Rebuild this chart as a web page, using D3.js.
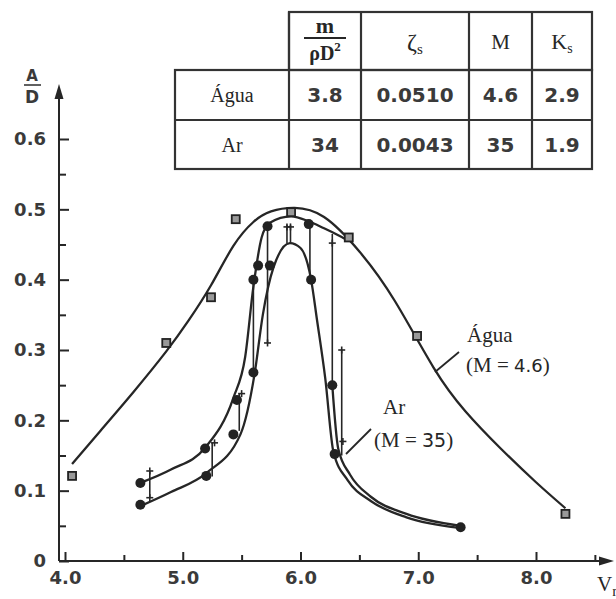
<!DOCTYPE html>
<html>
<head>
<meta charset="utf-8">
<script src="https://cdn.jsdelivr.net/npm/d3@7"></script>
<style>
  body { margin: 0; background: #fff; }
  svg { display: block; }
</style>
</head>
<body>
<svg id="chart" width="616" height="599"></svg>
<script>
// Água (M = 4.6): pontos medidos (quadrados)
const aguaX = [4.06, 4.86, 5.24, 5.45, 5.92, 6.41, 6.99, 8.25];
const aguaY = [0.121, 0.31, 0.375, 0.486, 0.496, 0.46, 0.32, 0.067];
// curva ajustada da água
const aguaCurvaX = [4.06, 4.3, 4.58, 4.86, 5.05, 5.24, 5.43, 5.6, 5.75, 5.95, 6.2, 6.5, 6.8, 7.13, 7.4, 7.7, 8.0, 8.25];
const aguaCurvaY = [0.138, 0.185, 0.24, 0.298, 0.342, 0.392, 0.448, 0.482, 0.497, 0.502, 0.489, 0.44, 0.37, 0.275, 0.213, 0.16, 0.112, 0.075];

// Ar (M = 35): ramo superior, ramo inferior e cauda depois do salto
const arSupX = [4.64, 4.9, 5.19, 5.43, 5.53, 5.6, 5.67, 5.74, 5.92, 6.07, 6.2, 6.3, 6.41];
const arSupY = [0.111, 0.13, 0.161, 0.232, 0.29, 0.39, 0.46, 0.481, 0.49, 0.483, 0.473, 0.465, 0.455];
const arInfX = [4.64, 4.9, 5.2, 5.49, 5.61, 5.68, 5.77, 5.91, 6.0, 6.09, 6.14, 6.21, 6.28, 6.4, 6.6, 6.9, 7.35];
const arInfY = [0.078, 0.098, 0.125, 0.18, 0.266, 0.35, 0.417, 0.452, 0.445, 0.40, 0.343, 0.26, 0.155, 0.115, 0.085, 0.062, 0.047];
const arCaudaX = [6.27, 6.32, 6.42, 6.6, 6.9, 7.36];
const arCaudaY = [0.25, 0.16, 0.123, 0.091, 0.067, 0.05];

// pontos medidos do ar (círculos)
const arCirX = [4.64, 4.64, 5.19, 5.20, 5.43, 5.46, 5.60, 5.60, 5.64, 5.72, 5.74, 6.07, 6.09, 6.27, 6.29, 7.36];
const arCirY = [0.111, 0.08, 0.16, 0.121, 0.18, 0.229, 0.268, 0.40, 0.42, 0.476, 0.42, 0.479, 0.40, 0.25, 0.152, 0.048];

// saltos verticais (x, de, até)
const saltoX = [4.72, 5.25, 5.48, 5.60, 5.72, 5.885, 5.915, 6.08, 6.27, 6.35];
const saltoDe = [0.128, 0.168, 0.238, 0.40, 0.476, 0.478, 0.478, 0.479, 0.465, 0.30];
const saltoAte = [0.09, 0.12, 0.185, 0.268, 0.31, 0.452, 0.452, 0.40, 0.25, 0.15];

// marcas "+"
const maisX = [4.72, 4.72, 5.27, 5.50, 5.72, 5.885, 5.915, 6.27, 6.35, 6.36];
const maisY = [0.128, 0.09, 0.168, 0.238, 0.31, 0.475, 0.475, 0.452, 0.30, 0.17];

// eixos
const xTicks = [4, 5, 6, 7, 8];
const xMinor = [4.5, 5.5, 6.5, 7.5, 8.5];
const yTicks = [0, 0.1, 0.2, 0.3, 0.4, 0.5, 0.6];
const yMinor = [0.05, 0.15, 0.25, 0.35, 0.45, 0.55];

// tabela
const tabLinhas = ["Água", "Ar"];
const tabMassa = ["3.8", "34"];
const tabZeta = ["0.0510", "0.0043"];
const tabM = ["4.6", "35"];
const tabK = ["2.9", "1.9"];

const numFont = "DejaVu Sans";
const serif = "Liberation Serif";
const ink = "#262626";

const svg = d3.select("#chart");

const x = d3.scaleLinear().domain([4, 8]).range([65, 536]);
const y = d3.scaleLinear().domain([0, 0.6]).range([561, 139]);
const x0 = 59, y0 = 561;

function estiloEixo(g) {
  g.select(".domain").remove();
  g.selectAll(".tick line").attr("stroke", ink).attr("stroke-width", 2);
  g.selectAll(".tick text")
    .attr("fill", "#3a3a3a")
    .style("font-family", numFont)
    .style("font-weight", "bold")
    .style("font-size", "18px");
}

// eixo x
svg.append("g")
  .attr("transform", `translate(0,${y0})`)
  .call(d3.axisBottom(x).tickValues(xTicks).tickFormat(d3.format(".1f")).tickSize(-9).tickPadding(10))
  .call(estiloEixo);
svg.append("g")
  .attr("transform", `translate(0,${y0})`)
  .call(d3.axisBottom(x).tickValues(xMinor).tickFormat("").tickSize(-6))
  .call(estiloEixo);

// eixo y
svg.append("g")
  .attr("transform", `translate(${x0},0)`)
  .call(d3.axisLeft(y).tickValues(yTicks)
    .tickFormat(d => d === 0 ? "0" : d3.format(".1f")(d)).tickSize(-10).tickPadding(13))
  .call(estiloEixo);
svg.append("g")
  .attr("transform", `translate(${x0},0)`)
  .call(d3.axisLeft(y).tickValues(yMinor).tickFormat("").tickSize(-7))
  .call(estiloEixo);

// linhas dos eixos com setas
svg.append("line").attr("x1", x0).attr("y1", y0).attr("x2", x0).attr("y2", 94)
  .attr("stroke", ink).attr("stroke-width", 2);
svg.append("path").attr("d", `M${x0},84 L${x0 - 4.5},99 L${x0 + 4.5},99 Z`).attr("fill", ink);
svg.append("line").attr("x1", x0).attr("y1", y0).attr("x2", 604).attr("y2", y0)
  .attr("stroke", ink).attr("stroke-width", 2);
svg.append("path").attr("d", `M614,${y0} L599,${y0 - 4.5} L599,${y0 + 4.5} Z`).attr("fill", ink);

// rótulos dos eixos
svg.append("text").attr("x", 32).attr("y", 81).attr("text-anchor", "middle")
  .style("font-family", numFont).style("font-weight", "bold").style("font-size", "15px")
  .attr("fill", "#3a3a3a").text("A");
svg.append("line").attr("x1", 24).attr("x2", 41).attr("y1", 85).attr("y2", 85)
  .attr("stroke", "#3a3a3a").attr("stroke-width", 1.6);
svg.append("text").attr("x", 32).attr("y", 103).attr("text-anchor", "middle")
  .style("font-family", numFont).style("font-weight", "bold").style("font-size", "17px")
  .attr("fill", "#3a3a3a").text("D");
const vr = svg.append("text").attr("x", 597).attr("y", 591)
  .style("font-family", serif).style("font-size", "21px").attr("fill", ink);
vr.append("tspan").text("V");
vr.append("tspan").attr("dy", 5).style("font-size", "15px").text("r");

// curvas
const linhaSuave = d3.line().x(d => x(d[0])).y(d => y(d[1])).curve(d3.curveNatural);
const linha = d3.line().x(d => x(d[0])).y(d => y(d[1])).curve(d3.curveMonotoneX);

svg.append("path")
  .attr("d", linhaSuave(d3.zip(aguaCurvaX, aguaCurvaY)))
  .attr("fill", "none")
  .attr("stroke", ink)
  .attr("stroke-width", 2.3);

const curvasAr = [
  d3.zip(arSupX, arSupY),
  d3.zip(arInfX, arInfY),
  d3.zip(arCaudaX, arCaudaY)
];
svg.selectAll("path.curva")
  .data(curvasAr)
  .enter()
  .append("path")
  .attr("class", "curva")
  .attr("d", linha)
  .attr("fill", "none")
  .attr("stroke", ink)
  .attr("stroke-width", 2.3);

// saltos verticais
svg.selectAll("line.salto")
  .data(saltoX)
  .enter()
  .append("line")
  .attr("class", "salto")
  .attr("x1", d => x(d)).attr("x2", d => x(d))
  .attr("y1", (d, i) => y(saltoDe[i])).attr("y2", (d, i) => y(saltoAte[i]))
  .attr("stroke", ink).attr("stroke-width", 1.6);

// marcas +
const mais = svg.selectAll("g.mais")
  .data(maisX)
  .enter()
  .append("g")
  .attr("class", "mais")
  .attr("transform", (d, i) => `translate(${x(d)},${y(maisY[i])})`);
mais.append("line").attr("x1", -3.5).attr("x2", 3.5).attr("stroke", ink).attr("stroke-width", 1.6);
mais.append("line").attr("y1", -3.5).attr("y2", 3.5).attr("stroke", ink).attr("stroke-width", 1.6);

// quadrados (água)
svg.selectAll("rect.agua")
  .data(aguaX)
  .enter()
  .append("rect")
  .attr("class", "agua")
  .attr("x", d => x(d) - 4)
  .attr("y", (d, i) => y(aguaY[i]) - 4)
  .attr("width", 8).attr("height", 8)
  .attr("fill", "#999").attr("stroke", "#222").attr("stroke-width", 1.8);

// círculos (ar)
svg.selectAll("circle.ar")
  .data(arCirX)
  .enter()
  .append("circle")
  .attr("class", "ar")
  .attr("cx", d => x(d))
  .attr("cy", (d, i) => y(arCirY[i]))
  .attr("r", 5)
  .attr("fill", "#222");

// legendas com setas indicadoras
svg.append("line").attr("x1", 435).attr("y1", 372).attr("x2", 459).attr("y2", 352)
  .attr("stroke", ink).attr("stroke-width", 1.8);
svg.append("text").attr("x", 467).attr("y", 342)
  .style("font-family", serif).style("font-size", "21px").attr("fill", ink).text("Água");
const t1 = svg.append("text").attr("x", 466).attr("y", 372)
  .style("font-size", "21px").attr("fill", ink);
t1.append("tspan").style("font-family", serif).text("(M = ");
t1.append("tspan").style("font-family", numFont).style("font-size", "18px").text("4.6");
t1.append("tspan").style("font-family", serif).text(")");

svg.append("line").attr("x1", 346).attr("y1", 454).attr("x2", 371).attr("y2", 429)
  .attr("stroke", ink).attr("stroke-width", 1.8);
svg.append("text").attr("x", 383).attr("y", 414)
  .style("font-family", serif).style("font-size", "21px").attr("fill", ink).text("Ar");
const t2 = svg.append("text").attr("x", 374).attr("y", 447)
  .style("font-size", "21px").attr("fill", ink);
t2.append("tspan").style("font-family", serif).text("(M = ");
t2.append("tspan").style("font-family", numFont).style("font-size", "19px").text("35");
t2.append("tspan").style("font-family", serif).text(")");

// tabela
const colX = [175, 289, 361, 469, 532, 592];
const rowY = [12, 70, 120, 169];
const tab = svg.append("g").attr("stroke", "#333").attr("stroke-width", 2.2).attr("fill", "none");
tab.append("rect").attr("x", colX[1]).attr("y", rowY[0]).attr("width", colX[5] - colX[1]).attr("height", rowY[1] - rowY[0]);
tab.append("rect").attr("x", colX[0]).attr("y", rowY[1]).attr("width", colX[5] - colX[0]).attr("height", rowY[3] - rowY[1]);
tab.append("line").attr("x1", colX[0]).attr("x2", colX[5]).attr("y1", rowY[2]).attr("y2", rowY[2]);
colX.slice(1, 5).forEach(cx => {
  tab.append("line").attr("x1", cx).attr("x2", cx).attr("y1", rowY[0]).attr("y2", rowY[3]);
});

const meio = i => (colX[i] + colX[i + 1]) / 2;

// cabeçalho
svg.append("text").attr("x", meio(1)).attr("y", 33).attr("text-anchor", "middle")
  .style("font-family", serif).style("font-weight", "bold").style("font-size", "22px").attr("fill", ink).text("m");
svg.append("line").attr("x1", meio(1) - 21).attr("x2", meio(1) + 21).attr("y1", 38).attr("y2", 38)
  .attr("stroke", ink).attr("stroke-width", 1.8);
const rho = svg.append("text").attr("x", meio(1)).attr("y", 60).attr("text-anchor", "middle")
  .style("font-family", serif).style("font-weight", "bold").style("font-size", "20px").attr("fill", ink);
rho.append("tspan").text("ρD");
rho.append("tspan").attr("dy", -9).style("font-size", "13px").text("2");

const zeta = svg.append("text").attr("x", meio(2)).attr("y", 50).attr("text-anchor", "middle")
  .style("font-family", serif).style("font-size", "24px").attr("fill", ink);
zeta.append("tspan").text("ζ");
zeta.append("tspan").attr("dy", 4).style("font-size", "15px").text("s");

svg.append("text").attr("x", meio(3)).attr("y", 49).attr("text-anchor", "middle")
  .style("font-family", serif).style("font-size", "21px").attr("fill", ink).text("M");
const kz = svg.append("text").attr("x", meio(4)).attr("y", 49).attr("text-anchor", "middle")
  .style("font-family", serif).style("font-size", "22px").attr("fill", ink);
kz.append("tspan").text("K");
kz.append("tspan").attr("dy", 4).style("font-size", "14px").text("s");

// corpo da tabela
const colunas = [tabMassa, tabZeta, tabM, tabK];
tabLinhas.forEach((nome, r) => {
  const base = (rowY[r + 1] + rowY[r + 2]) / 2 + 7;
  svg.append("text").attr("x", meio(0)).attr("y", base).attr("text-anchor", "middle")
    .style("font-family", serif).style("font-size", "20px").attr("fill", ink).text(nome);
  colunas.forEach((col, c) => {
    svg.append("text").attr("x", meio(c + 1)).attr("y", base).attr("text-anchor", "middle")
      .style("font-family", numFont).style("font-weight", "bold").style("font-size", "20px")
      .attr("fill", "#3a3a3a").text(col[r]);
  });
});
</script>
</body>
</html>
